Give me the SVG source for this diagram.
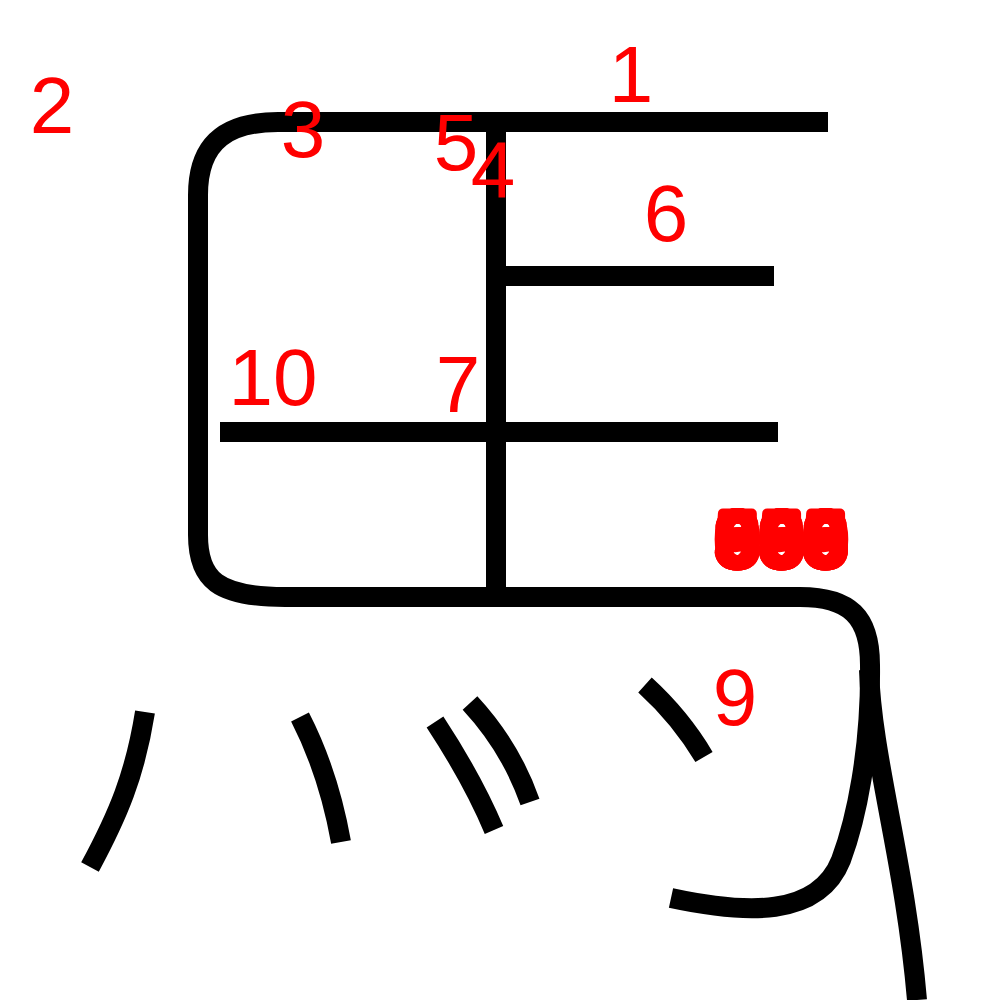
<svg xmlns="http://www.w3.org/2000/svg" width="1000" height="1000" viewBox="0 0 1000 1000">
<style>
.s{fill:none;stroke:#000;stroke-width:20;stroke-linecap:butt;stroke-linejoin:miter}
.n{fill:#f00;font-family:"Liberation Sans",Arial,sans-serif;font-size:80px;text-anchor:middle}
.b{font-size:74px;stroke:#f00;stroke-width:10;stroke-linejoin:round}
</style>
<rect width="1000" height="1000" fill="#fff"/>
<g id="connectors">
<g id="stroke-frame"><path class="s" d="M300 122 L278 122 C232 122 198 138 198 195 L198 535 C198 580 218 597 285 597 L800 597 C850 597 870 617 870 665 C871 750 856 820 841 860 C818 918 745 914 671 898"/></g>
<g id="stroke-top"><path class="s" d="M280 122 L828 122"/></g>
<g id="stroke-vertical"><path class="s" d="M496 132 L496 590"/></g>
<g id="stroke-mid"><path class="s" d="M506 276 L774 276"/></g>
<g id="stroke-low"><path class="s" d="M220 432 L778 432"/></g>
<g id="stroke-tail"><path class="s" d="M869 670 C872 760 905 860 917 1000"/></g>
<g id="dot1"><path class="s" d="M145 712 C135 775 118 815 90 867"/></g>
<g id="dot2"><path class="s" d="M300 717 C318 752 332 792 341 842"/></g>
<g id="dot3"><path class="s" d="M435 722 C458 757 478 792 494 830"/></g>
<g id="dot4"><path class="s" d="M470 703 C495 730 517 765 530 802"/></g>
<g id="dot5"><path class="s" d="M645 685 C668 706 688 730 704 757"/></g>
</g>
<g id="labels">
<text class="n" x="631" y="102">1</text>
<text class="n" x="52" y="133">2</text>
<text class="n" x="303" y="157">3</text>
<text class="n" x="493" y="197">4</text>
<text class="n" x="456" y="170">5</text>
<text class="n" x="666" y="241">6</text>
<text class="n" x="458" y="412">7</text>
<text class="n" x="735" y="725">9</text>
<text class="n" x="273" y="405">10</text>
<g id="overlap">
<text class="n b" x="783" y="565" letter-spacing="3">888</text>
<text class="n b" x="783" y="565" letter-spacing="3">000</text>
<text class="n b" x="783" y="565" letter-spacing="3">999</text>
<text class="n b" x="783" y="565" letter-spacing="3">666</text>
<text class="n b" x="783" y="565" letter-spacing="3">555</text>
<text class="n b" x="783" y="565" letter-spacing="3">333</text>
</g>
</g>
</svg>
